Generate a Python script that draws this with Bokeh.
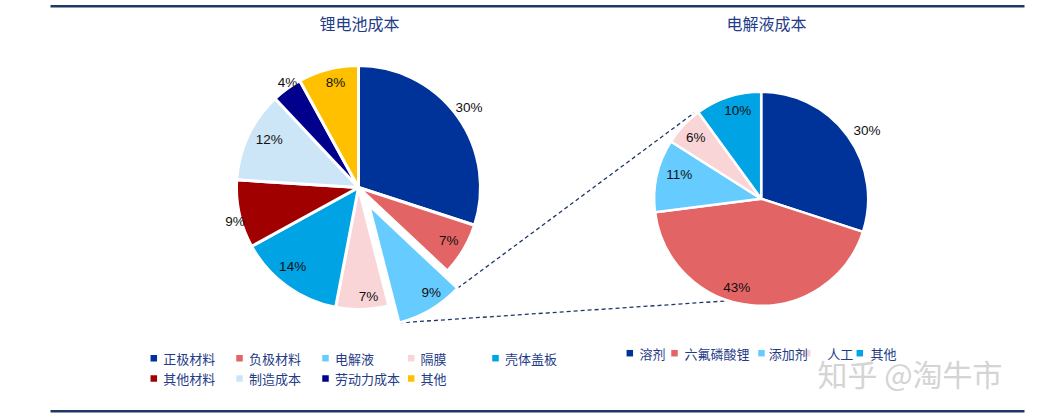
import math
from bokeh.plotting import figure
from bokeh.models import Range1d, ColumnDataSource
from bokeh.core.properties import value
from bokeh.embed import file_html
from bokeh.resources import INLINE

# ---------------- data ----------------
battery_title = "锂电池成本"
battery_items = ["正极材料", "负极材料", "电解液", "隔膜", "壳体盖板",
                 "其他材料", "制造成本", "劳动力成本", "其他"]
battery_share = [30, 7, 9, 7, 14, 9, 12, 4, 8]

electrolyte_title = "电解液成本"
electrolyte_items = ["溶剂", "六氟磷酸锂", "添加剂", "人工", "其他"]
electrolyte_share = [30, 43, 11, 6, 10]

watermark = "知乎 @淘牛市"

# ---------------- style / layout ----------------
battery_colors = ["#003399", "#E36464", "#66CCFF", "#F9D5D8", "#00A3E3",
                  "#A00000", "#CDE6F7", "#00008C", "#FFC000"]
electrolyte_colors = ["#003399", "#E36464", "#66CCFF", "#F9D5D8", "#00A3E3"]

W, H = 1038, 418


def X(sx):
    return sx


def Y(sy):
    return H - sy


p = figure(width=W, height=H, x_range=Range1d(0, W), y_range=Range1d(0, H),
           output_backend="svg", toolbar_location=None, min_border=0,
           x_axis_type=None, y_axis_type=None)
p.grid.visible = False
p.outline_line_color = None
p.background_fill_color = "white"
p.border_fill_color = "white"

NAVY = "#1F3864"
TXT_BLUE = "#1F3C88"
CJK = value("Noto Sans CJK SC")
LAT = value("Liberation Sans")

# top / bottom rules
p.segment(x0=[X(50), X(50)], y0=[Y(5.8), Y(410.8)], x1=[X(1024), X(1024)],
          y1=[Y(5.8), Y(410.8)], line_color=NAVY, line_width=2.4)


def pie_geometry(cx, cy, shares, explode):
    total = float(sum(shares))
    cum = 0.0
    out = []
    for i, v in enumerate(shares):
        a0 = 90 - (cum + v) / total * 360
        a1 = 90 - cum / total * 360
        mid = math.radians((a0 + a1) / 2)
        ox = cx + explode[i] * math.cos(mid)
        oy = cy + explode[i] * math.sin(mid)
        out.append((ox, oy, a0, a1))
        cum += v
    return out


def draw_pie(cx, cy, r, shares, colors, explode, label_layout, lw):
    geo = pie_geometry(cx, cy, shares, explode)
    src = ColumnDataSource(dict(
        x=[g[0] for g in geo], y=[g[1] for g in geo],
        s=[g[2] for g in geo], e=[g[3] for g in geo], c=colors))
    p.wedge(x="x", y="y", radius=r, start_angle="s", end_angle="e",
            start_angle_units="deg", end_angle_units="deg",
            fill_color="c", line_color="white", line_width=lw, source=src)
    lx, ly, lt = [], [], []
    for (ox, oy, a0, a1), (dang, rf), v in zip(geo, label_layout, shares):
        a = math.radians((a0 + a1) / 2 + dang)
        lx.append(ox + rf * r * math.cos(a))
        ly.append(oy + rf * r * math.sin(a))
        lt.append(f"{v}%")
    p.text(x=lx, y=ly, text=lt, text_font=LAT, text_font_size="13.5px",
           text_color="#111111", text_align="center", text_baseline="middle")
    return geo


# left pie
LCX, LCY, LR = X(358), Y(187), 122
left_explode = [0, 0, 20, 0, 0, 0, 0, 0, 0]
left_labels = [(0, 1.12), (0, 0.86), (5, 0.88), (3.4, 0.9), (-4, 0.84),
               (3, 1.05), (-3, 0.83), (-2, 1.04), (-2, 0.88)]

# right pie
RCX, RCY, RR = X(760.7), Y(198.3), 107
right_explode = [0, 0, 0, 0, 0]
right_labels = [(-3, 1.18), (-10, 0.86), (-4, 0.80), (0, 0.84), (-3, 0.85)]

# connectors (drawn first, under the pies)
geo_l = pie_geometry(LCX, LCY, battery_share, left_explode)
ex = battery_items.index("电解液")
ox, oy, a0, a1 = geo_l[ex]
pA = (ox + LR * math.cos(math.radians(a1)), oy + LR * math.sin(math.radians(a1)))
pB = (ox + LR * math.cos(math.radians(a0)), oy + LR * math.sin(math.radians(a0)))
qA = (RCX + 109 * math.cos(math.radians(128)), RCY + 109 * math.sin(math.radians(128)))
qB = (RCX + 104 * math.cos(math.radians(-103)), RCY + 104 * math.sin(math.radians(-103)))
p.segment(x0=[pA[0], pB[0]], y0=[pA[1], pB[1]], x1=[qA[0], qB[0]], y1=[qA[1], qB[1]],
          line_color=NAVY, line_width=1.3, line_dash="4 3")

draw_pie(LCX, LCY, LR, battery_share, battery_colors, left_explode, left_labels, 3)
draw_pie(RCX, RCY, RR, electrolyte_share, electrolyte_colors, right_explode, right_labels, 2.5)

# titles
p.text(x=[X(359), X(766)], y=[Y(22), Y(22)], text=[battery_title, electrolyte_title],
       text_font=CJK, text_font_size="16px", text_color=TXT_BLUE,
       text_align="center", text_baseline="middle")

# left legend (5 per row)
lg_x = [153.3, 239, 325, 410.7, 495]
lg_y = [357.7, 378]
mx, my, tx, ty = [], [], [], []
for i, name in enumerate(battery_items):
    col, row = i % 5, i // 5
    mx.append(X(lg_x[col]))
    my.append(Y(lg_y[row]))
    tx.append(X(lg_x[col] + 9.4))
    ty.append(Y(lg_y[row]))
p.rect(x=mx, y=my, width=6.5, height=6.5, fill_color=battery_colors, line_color=None)
p.text(x=tx, y=ty, text=battery_items, text_font=CJK, text_font_size="13px",
       text_color=TXT_BLUE, text_align="left", text_baseline="middle")

# right legend (one row)
rg_mx = [629.3, 674, 761, 806.7, 859.3]
rg_tx = [639, 684, 768.3, 826.7, 870]
rg_y = 352.7
p.rect(x=[X(v) for v in rg_mx], y=[Y(rg_y)] * 5, width=6.5, height=6.5,
       fill_color=electrolyte_colors, line_color=None)
p.text(x=[X(v) for v in rg_tx], y=[Y(rg_y)] * 5, text=electrolyte_items,
       text_font=CJK, text_font_size="13px", text_color=TXT_BLUE,
       text_align="left", text_baseline="middle")

# watermark
p.text(x=[X(817)], y=[Y(372)], text=[watermark], text_font=CJK,
       text_font_size="30px", text_color="#D4D4D4", text_align="left",
       text_baseline="middle")

open("out.html", "w").write(file_html(p, INLINE))
